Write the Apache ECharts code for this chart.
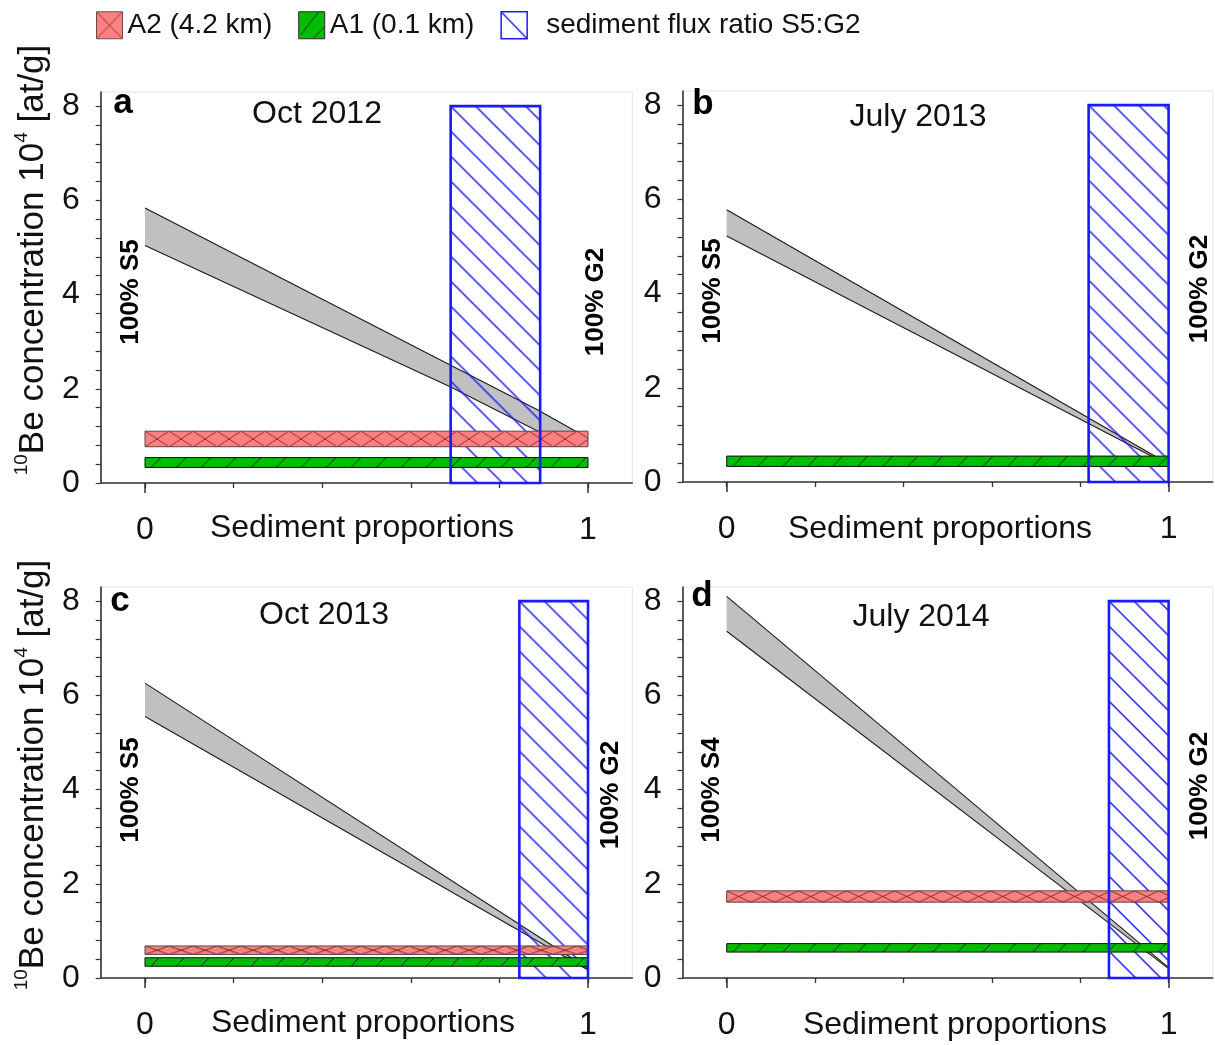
<!DOCTYPE html>
<html>
<head>
<meta charset="utf-8">
<script src="https://cdn.jsdelivr.net/npm/echarts@6/dist/echarts.min.js"></script>
<style>
html,body{margin:0;padding:0;background:#fff;}
#chart{width:1215px;height:1045px;}
</style>
</head>
<body>
<div id="chart"></div>
<script>
// ---------------- data ----------------
const panelLetters = ['a', 'b', 'c', 'd'];
const panelTitles = ['Oct 2012', 'July 2013', 'Oct 2013', 'July 2014'];
const leftSource = ['100% S5', '100% S5', '100% S5', '100% S4'];
const rightSource = ['100% G2', '100% G2', '100% G2', '100% G2'];
const xAxisTitle = 'Sediment proportions';
const xTickValues = [0, 0.2, 0.4, 0.6, 0.8, 1];
const xMajorTicks = [0, 1];
const yTickValues = [0, 0.4, 0.8, 1.2, 1.6, 2, 2.4, 2.8, 3.2, 3.6, 4, 4.4, 4.8, 5.2, 5.6, 6, 6.4, 6.8, 7.2, 7.6, 8];
const yLabelValues = [0, 2, 4, 6, 8];
const legendNames = ['A2 (4.2 km)', 'A1 (0.1 km)', 'sediment flux ratio S5:G2'];
// A2 (4.2 km) band per panel: [x start, x end, conc low, conc high]; null = absent
const a2Band = [[0, 1, 0.77, 1.10], null, [0, 1, 0.50, 0.68], [0, 1, 1.61, 1.85]];
// A1 (0.1 km) band per panel
const a1Band = [[0, 1, 0.33, 0.54], [0, 1, 0.33, 0.55], [0, 1, 0.25, 0.43], [0, 1, 0.55, 0.73]];
// sediment flux ratio S5:G2 per panel: [x start, x end, conc low, conc high]
const fluxRatio = [[0.69, 0.892, 0, 8], [0.819, 1, 0, 8], [0.845, 1, 0, 8], [0.865, 1, 0, 8]];
// mixing envelope per panel (x, upper, lower)
const mixX = [[0, 0.69, 0.887, 1], [0, 1], [0, 1], [0, 1]];
const mixUpper = [[5.84, 2.50, 1.55, 0.95], [5.78, 0.38], [6.26, 0.20], [8.10, 0.22]];
const mixLower = [[5.04, 2.04, 1.10, 0.85], [5.22, 0.36], [5.55, 0.17], [7.36, 0.20]];

// ---------------- styling helpers ----------------
const FONT = "'Liberation Sans', Arial, Helvetica, sans-serif";
const TXT = '#111';
const PINK = '#ff8080', GREEN = '#00bd00', BLUE = '#1a1aff', GRAY = '#c0c0c0';

const tileCache = {};
function makeCanvas(w, h, draw) {
  const c = document.createElement('canvas');
  c.width = w; c.height = h;
  draw(c.getContext('2d'), w, h);
  return c;
}
function pinkTile(h) {
  h = Math.max(3, Math.round(h));
  const key = 'p' + h;
  if (!tileCache[key]) tileCache[key] = makeCanvas(24, h, (ctx, w, hh) => {
    ctx.fillStyle = PINK; ctx.fillRect(0, 0, w, hh);
    ctx.strokeStyle = 'rgba(110,45,45,0.9)'; ctx.lineWidth = 1;
    ctx.beginPath(); ctx.moveTo(0, 0); ctx.lineTo(w, hh); ctx.moveTo(w, 0); ctx.lineTo(0, hh); ctx.stroke();
  });
  return tileCache[key];
}
function greenTile(h) {
  h = Math.max(3, Math.round(h));
  const key = 'g' + h;
  if (!tileCache[key]) tileCache[key] = makeCanvas(25, h, (ctx, w, hh) => {
    ctx.fillStyle = GREEN; ctx.fillRect(0, 0, w, hh);
    ctx.strokeStyle = '#0a300a'; ctx.lineWidth = 1;
    ctx.beginPath(); ctx.moveTo(6, hh); ctx.lineTo(6 + hh, 0); ctx.stroke();
  });
  return tileCache[key];
}
const hatchTile = makeCanvas(25, 25, (ctx, w, h) => {
  ctx.strokeStyle = '#1f1fff'; ctx.lineWidth = 1.5;
  ctx.beginPath();
  ctx.moveTo(-2, -2); ctx.lineTo(w + 2, h + 2);
  ctx.moveTo(-6, h - 6); ctx.lineTo(6, h + 6);
  ctx.moveTo(w - 6, -6); ctx.lineTo(w + 6, 6);
  ctx.stroke();
});
const legendPink = makeCanvas(26, 27, (ctx, w, h) => {
  ctx.fillStyle = PINK; ctx.fillRect(0, 0, w, h);
  ctx.strokeStyle = 'rgba(110,45,45,0.85)'; ctx.lineWidth = 1;
  ctx.beginPath(); ctx.moveTo(0, 0); ctx.lineTo(w, h); ctx.moveTo(w, 0); ctx.lineTo(0, h); ctx.stroke();
});
const legendGreen = makeCanvas(26, 27, (ctx, w, h) => {
  ctx.fillStyle = GREEN; ctx.fillRect(0, 0, w, h);
  ctx.strokeStyle = '#0a300a'; ctx.lineWidth = 1;
  ctx.beginPath(); ctx.moveTo(2, h - 4); ctx.lineTo(20, 0); ctx.moveTo(14, h); ctx.lineTo(w, h - 12); ctx.stroke();
});
const legendBlue = makeCanvas(26, 27, (ctx, w, h) => {
  ctx.fillStyle = '#fff'; ctx.fillRect(0, 0, w, h);
  ctx.strokeStyle = BLUE; ctx.lineWidth = 1.4;
  ctx.beginPath(); ctx.moveTo(0, 0); ctx.lineTo(w, h); ctx.stroke();
});

function rectRenderer(kind) {
  return function (params, api) {
    const tl = api.coord([api.value(0), api.value(3)]);
    const br = api.coord([api.value(1), api.value(2)]);
    const w = br[0] - tl[0], h = br[1] - tl[1];
    let style;
    if (kind === 'pink') {
      style = { fill: { image: pinkTile(h), repeat: 'repeat', x: tl[0], y: tl[1], scaleY: h / Math.max(3, Math.round(h)) }, stroke: '#5a4444', lineWidth: 1 };
    } else if (kind === 'green') {
      style = { fill: { image: greenTile(h), repeat: 'repeat', x: tl[0], y: tl[1], scaleY: h / Math.max(3, Math.round(h)) }, stroke: '#111', lineWidth: 1 };
    } else if (kind === 'hatch') {
      style = { fill: { image: hatchTile, repeat: 'repeat', x: tl[0], y: tl[1] }, stroke: null, lineWidth: 0 };
    } else {
      style = { fill: null, stroke: BLUE, lineWidth: 2.6 };
    }
    return { type: 'rect', shape: { x: tl[0], y: tl[1], width: w, height: h }, style: style, silent: true };
  };
}
function bandRenderer(params, api) {
  if (params.dataIndexInside !== 0) return null;
  const n = params.dataInsideLength;
  const up = [], lo = [];
  for (let k = 0; k < n; k++) {
    up.push(api.coord([api.value(0, k), api.value(1, k)]));
    lo.push(api.coord([api.value(0, k), api.value(2, k)]));
  }
  const poly = up.concat(lo.slice().reverse());
  return {
    type: 'group', silent: true,
    children: [
      { type: 'polygon', shape: { points: poly }, style: { fill: GRAY, stroke: null } },
      { type: 'polyline', shape: { points: up }, style: { fill: null, stroke: '#1a1a1a', lineWidth: 1.1 } },
      { type: 'polyline', shape: { points: lo }, style: { fill: null, stroke: '#1a1a1a', lineWidth: 1.1 } }
    ]
  };
}

// ---------------- layout ----------------
const gridBoxes = [
  { left: 100.7, top: 92, width: 531.6, height: 391 },
  { left: 682.5, top: 91, width: 530.3, height: 391 },
  { left: 100.7, top: 587, width: 531.6, height: 391 },
  { left: 682.5, top: 587, width: 530.3, height: 391 }
];
const letterPos = [[123, 103], [703, 104], [120, 601], [702, 596]];
const titlePos = [[317, 114], [918, 117], [324, 615], [921, 617]];
const leftSrcPos = [[131, 292], [713, 291], [131, 790], [712, 790]];
const rightSrcPos = [[596, 302], [1200, 289], [611, 795], [1200, 786]];
const xNamePos = [[362, 528], [940, 529], [363, 1023], [955, 1025]];
const yNamePos = [[33, 260], [33, 775]];

const grids = [], xAxes = [], yAxes = [], series = [], graphics = [];
gridBoxes.forEach((g, i) => {
  grids.push(Object.assign({ show: true, borderColor: '#e4e4e4', borderWidth: 1, backgroundColor: 'transparent', containLabel: false, outerBoundsMode: 'none' }, g));
  xAxes.push({
    gridIndex: i, type: 'value', min: -0.1, max: 1.1, position: 'bottom',
    axisLine: { show: true, onZero: false, lineStyle: { color: '#333', width: 1.6 } },
    axisTick: { show: true, customValues: xTickValues, length: 5, lineStyle: { color: '#333', width: 1.3 } },
    axisLabel: { show: true, customValues: xMajorTicks, margin: 31, fontSize: 32, fontFamily: FONT, color: TXT },
    splitLine: { show: false }
  });
  xAxes.push({
    gridIndex: i, type: 'value', min: -0.1, max: 1.1, position: 'bottom', offset: 0,
    axisLine: { show: false, onZero: false },
    axisTick: { show: true, customValues: xMajorTicks, length: 10, lineStyle: { color: '#333', width: 1.5 } },
    axisLabel: { show: false },
    splitLine: { show: false }
  });
  yAxes.push({
    gridIndex: i, type: 'value', min: 0, max: 8.3,
    axisLine: { show: true, onZero: false, lineStyle: { color: '#333', width: 1.6 } },
    axisTick: { show: true, customValues: yTickValues, length: 5, lineStyle: { color: '#333', width: 1.2 } },
    axisLabel: { show: true, customValues: yLabelValues, margin: 21, fontSize: 32, fontFamily: FONT, color: TXT },
    splitLine: { show: false }
  });
  const xi = i * 2, yi = i;
  series.push({
    type: 'custom', name: 'mixing', coordinateSystem: 'cartesian2d', xAxisIndex: xi, yAxisIndex: yi, z: 2,
    renderItem: bandRenderer, silent: true,
    data: mixX[i].map((x, k) => [x, mixUpper[i][k], mixLower[i][k]])
  });
  series.push({
    type: 'custom', name: legendNames[2], coordinateSystem: 'cartesian2d', xAxisIndex: xi, yAxisIndex: yi, z: 3,
    renderItem: rectRenderer('hatch'), silent: true, itemStyle: { color: BLUE },
    data: [fluxRatio[i]]
  });
  if (a2Band[i]) series.push({
    type: 'custom', name: legendNames[0], coordinateSystem: 'cartesian2d', xAxisIndex: xi, yAxisIndex: yi, z: 4,
    renderItem: rectRenderer('pink'), silent: true, itemStyle: { color: PINK },
    data: [a2Band[i]]
  });
  series.push({
    type: 'custom', name: legendNames[1], coordinateSystem: 'cartesian2d', xAxisIndex: xi, yAxisIndex: yi, z: 5,
    renderItem: rectRenderer('green'), silent: true, itemStyle: { color: GREEN },
    data: [a1Band[i]]
  });
  series.push({
    type: 'custom', name: 'fluxBorder', coordinateSystem: 'cartesian2d', xAxisIndex: xi, yAxisIndex: yi, z: 6,
    renderItem: rectRenderer('border'), silent: true,
    data: [fluxRatio[i]]
  });

  graphics.push({ type: 'text', x: letterPos[i][0], y: letterPos[i][1], silent: true,
    style: { text: panelLetters[i], fontSize: 35, fontWeight: 'bold', fontFamily: FONT, fill: '#000', align: 'center', verticalAlign: 'middle' } });
  graphics.push({ type: 'text', x: titlePos[i][0], y: titlePos[i][1], silent: true,
    style: { text: panelTitles[i], fontSize: 32, fontFamily: FONT, fill: TXT, align: 'center', verticalAlign: 'middle' } });
  graphics.push({ type: 'text', x: leftSrcPos[i][0], y: leftSrcPos[i][1], rotation: Math.PI / 2, silent: true,
    style: { text: leftSource[i], fontSize: 26, fontWeight: 'bold', fontFamily: FONT, fill: '#000', align: 'center', verticalAlign: 'middle' } });
  graphics.push({ type: 'text', x: rightSrcPos[i][0], y: rightSrcPos[i][1], rotation: Math.PI / 2, silent: true,
    style: { text: rightSource[i], fontSize: 26, fontWeight: 'bold', fontFamily: FONT, fill: '#000', align: 'center', verticalAlign: 'middle' } });
  graphics.push({ type: 'text', x: xNamePos[i][0], y: xNamePos[i][1], silent: true,
    style: { text: xAxisTitle, fontSize: 32, fontFamily: FONT, fill: TXT, align: 'center', verticalAlign: 'middle' } });
});
yNamePos.forEach(p => {
  graphics.push({ type: 'text', x: p[0], y: p[1], rotation: Math.PI / 2, silent: true,
    style: {
      text: '{sup|10}Be concentration 10{sup|4} [at/g]',
      fontSize: 35, fontFamily: FONT, fill: TXT, align: 'center', verticalAlign: 'middle', lineHeight: 42,
      rich: { sup: { fontSize: 19, fontFamily: FONT, fill: TXT, verticalAlign: 'top', lineHeight: 19 } }
    } });
});

const option = {
  animation: false,
  backgroundColor: '#fff',
  legend: {
    left: 96, top: 11, padding: 0, itemWidth: 26, itemHeight: 27, itemGap: 26, icon: 'rect', selectedMode: false,
    textStyle: { fontSize: 28, fontFamily: FONT, color: TXT },
    data: [
      { name: legendNames[0], itemStyle: { color: { image: legendPink, repeat: 'no-repeat' }, borderColor: '#6a4a4a', borderWidth: 1 } },
      { name: legendNames[1], itemStyle: { color: { image: legendGreen, repeat: 'no-repeat' }, borderColor: '#222', borderWidth: 1 } },
      { name: legendNames[2], textStyle: { padding: [0, 0, 0, 14] }, itemStyle: { color: { image: legendBlue, repeat: 'no-repeat' }, borderColor: BLUE, borderWidth: 1.5 } }
    ]
  },
  grid: grids,
  xAxis: xAxes,
  yAxis: yAxes,
  series: series,
  graphic: graphics
};
const chart = echarts.init(document.getElementById('chart'), null, { renderer: 'canvas' });
chart.setOption(option);
</script>
</body>
</html>
